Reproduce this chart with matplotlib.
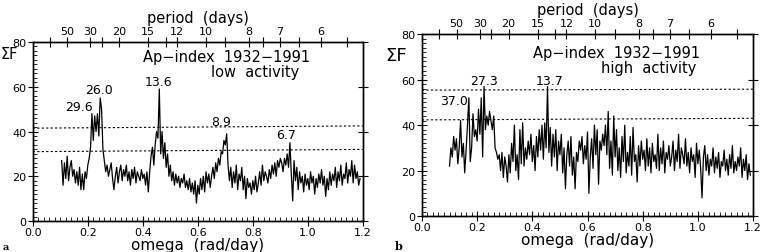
import numpy as np
import matplotlib
matplotlib.use("Agg")
import matplotlib.pyplot as plt
from matplotlib.ticker import MultipleLocator

# Periodogram values (sum F vs omega, rad/day)
low_start, low_end = 0.105, 1.19
low_vals = [
    27, 16, 26, 19, 29, 18, 24, 27, 20, 23,
    17, 22, 16, 24, 14, 21, 14, 22, 19, 25,
    28, 33, 48, 36, 47, 40, 48, 38, 55, 50,
    32, 27, 22, 25, 20, 23, 26, 19, 14, 20,
    24, 17, 22, 25, 18, 23, 20, 25, 18, 22,
    16, 23, 19, 24, 17, 22, 20, 18, 23, 19,
    21, 16, 22, 13, 22, 29, 33, 25, 34, 40,
    37, 59, 30, 40, 28, 35, 24, 30, 20, 25,
    18, 22, 16, 21, 17, 20, 15, 19, 17, 21,
    15, 18, 14, 19, 13, 17, 12, 18, 8, 16,
    12, 19, 14, 20, 13, 22, 17, 21, 15, 20,
    24, 19, 26, 22, 28, 25, 31, 30, 36, 34,
    39, 25, 18, 24, 15, 22, 17, 25, 14, 21,
    18, 24, 14, 20, 10, 19, 15, 17, 12, 18,
    14, 20, 13, 17, 22, 16, 25, 18, 22, 20,
    17, 23, 19, 25, 21, 26, 20, 27, 24, 28,
    26, 22, 28, 25, 30, 24, 35, 21, 9, 27,
    18, 24, 14, 22, 17, 20, 13, 21, 16, 19,
    14, 22, 17, 20, 12, 19, 15, 21, 17, 23,
    16, 20, 11, 19, 14, 22, 16, 21, 18, 24,
    15, 22, 18, 25, 16, 21, 19, 26, 17, 23,
    20, 27, 17, 25, 19, 22, 16, 19,
]

high_start, high_end = 0.100, 1.19
high_vals = [
    22,
    30, 26, 35, 29, 34, 23, 30, 42, 26, 32,
    19, 29, 40, 52, 24, 30, 45, 35, 38, 33,
    47, 36, 52, 26, 57, 38, 44, 40, 46, 42,
    38, 44, 30, 28, 25, 27, 20, 28, 17, 26,
    22, 15, 27, 19, 32, 24, 40, 20, 27, 16,
    38, 23, 41, 22, 30, 25, 33, 27, 36, 24,
    31, 20, 35, 26, 38, 29, 40, 25, 41, 30,
    57, 28, 39, 22, 36, 26, 38, 20, 33, 27,
    36, 19, 30, 12, 27, 33, 22, 35, 18, 26,
    12, 28, 24, 33, 29, 35, 23, 31, 25, 37,
    10, 26, 34, 21, 40, 27, 38, 14, 33, 29,
    36, 31, 40, 27, 46, 21, 33, 18, 44, 26,
    38, 20, 30, 17, 35, 24, 40, 19, 28, 22,
    35, 18, 39, 24, 27, 15, 31, 22, 33, 25,
    29, 20, 34, 22, 30, 19, 32, 24, 27, 21,
    36, 20, 30, 23, 33, 19, 28, 25, 31, 22,
    26, 33, 20, 29, 24, 36, 21, 30, 27, 23,
    34, 22, 28, 19, 30, 24, 27, 17, 32, 23,
    29, 21, 8, 26, 31, 20, 27, 18, 25, 22,
    30, 19, 26, 21, 28, 17, 24, 22, 29, 20,
    25, 18, 27, 21, 31, 19, 24, 20, 26, 22,
    30, 17, 25, 20, 27, 16, 23, 18,
]

# Significance levels (value at omega=0 and omega=1.2)
low_levels = [[31.0, 32.0], [41.5, 42.5]]
high_levels = [[42.3, 43.0], [55.4, 55.8]]

# Peak labels (period in days): text, omega, value
low_peaks = [("29.6", 0.167, 51.4), ("26.0", 0.241, 58.7), ("13.6", 0.456, 62.3),
             ("8.9", 0.686, 44.5), ("6.7", 0.92, 38.6)]
high_peaks = [("37.0", 0.116, 50.7), ("27.3", 0.225, 59.5), ("13.7", 0.464, 59.5)]

# Top axis: periods in days
period_ticks = [100, 50, 30, 25, 20, 15, 13, 12, 10, 9, 8, 7.5, 7, 6.5, 6, 5.5]
period_labels = [50, 30, 20, 15, 12, 10, 8, 7, 6]


def draw_panel(ax, start, end, vals, levels, peaks, subtitle, title_pos, sub_pos):
    omega = np.linspace(start, end, len(vals))
    ax.plot(omega, vals, color="black", lw=0.9)
    for lv in levels:
        ax.plot([0.0, 1.2], lv, color="black", lw=0.8, ls=(0, (2, 2)))
    for txt, x, y in peaks:
        ax.text(x, y, txt, ha="center", va="center", fontsize=9)
    ax.text(title_pos[0], title_pos[1], "Ap\u2212index  1932\u22121991",
            ha="center", va="center", fontsize=10.5)
    ax.text(sub_pos[0], sub_pos[1], subtitle, ha="center", va="center",
            fontsize=10.5)

    ax.set_xlim(0.0, 1.2)
    ax.set_ylim(0, 80)
    ax.xaxis.set_major_locator(MultipleLocator(0.2))
    ax.xaxis.set_minor_locator(MultipleLocator(0.02))
    ax.yaxis.set_major_locator(MultipleLocator(20))
    ax.yaxis.set_minor_locator(MultipleLocator(2))
    ax.xaxis.set_major_formatter(matplotlib.ticker.FormatStrFormatter("%.1f"))
    ax.tick_params(which="major", direction="inout", length=7, width=0.8,
                   labelsize=8, right=True, pad=1)
    ax.tick_params(which="minor", direction="in", length=3, width=0.6,
                   right=False)
    ax.set_xlabel("omega  (rad/day)", fontsize=11, labelpad=0)

    top = ax.twiny()
    top.set_xlim(0.0, 1.2)
    top.set_xticks([2 * np.pi / p for p in period_ticks])
    top.set_xticklabels([str(p) if p in period_labels else "" for p in period_ticks])
    top.tick_params(direction="inout", length=7, width=0.8, labelsize=8, pad=1)
    top.set_xlabel("period  (days)", fontsize=10.5, labelpad=3)
    for a in (ax, top):
        for s in a.spines.values():
            s.set_linewidth(1.0)


fig = plt.figure(figsize=(7.63, 2.53), dpi=100)
ax1 = fig.add_axes([0.043, 0.1225, 0.4325, 0.7075])
ax2 = fig.add_axes([0.553, 0.142, 0.434, 0.719])

draw_panel(ax1, low_start, low_end, low_vals, low_levels, low_peaks,
           "low  activity", (0.705, 73.5), (0.807, 67.0))
draw_panel(ax2, high_start, high_end, high_vals, high_levels, high_peaks,
           "high  activity", (0.705, 72.0), (0.822, 65.5))

fig.text(1 / 763, 1 - 55 / 253, "\u03a3F", ha="left", va="center", fontsize=10.5)
fig.text(407 / 763, 1 - 56 / 253, "\u03a3F", ha="right", va="center", fontsize=13)
fig.text(3 / 763, 1 - 248 / 253, "a", ha="left", va="center", fontsize=7,
         family="DejaVu Serif", weight="bold")
fig.text(395 / 763, 1 - 247 / 253, "b", ha="left", va="center", fontsize=8,
         family="DejaVu Serif", weight="bold")

fig.savefig("out.png", dpi=100)
